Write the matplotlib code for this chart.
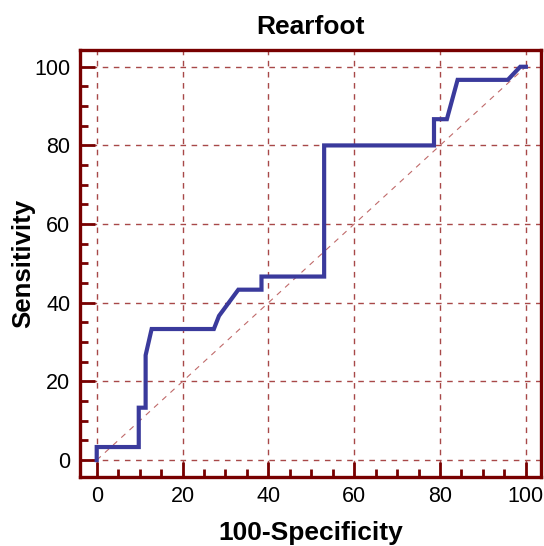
import numpy as np
import matplotlib.pyplot as plt
from matplotlib.ticker import MultipleLocator

plt.rcParams['font.family'] = ['Liberation Sans', 'DejaVu Sans']

# ROC points
fpr = [0, 0, 9.8, 9.8, 11.4, 11.4, 12.8, 27.3, 28.5, 33.0, 38.4, 38.4, 53.0, 53.0,
       78.6, 78.6, 81.6, 84.1, 95.8, 98.7, 100]
tpr = [0, 3.33, 3.33, 13.33, 13.33, 26.67, 33.33, 33.33, 36.67, 43.33, 43.33, 46.67,
       46.67, 80, 80, 86.67, 86.67, 96.67, 96.67, 100, 100]
ref = [0, 100]
ticks = [0, 20, 40, 60, 80, 100]

frame = '#780000'
grid_c = '#a84848'
curve_c = '#3a3a9c'

fig = plt.figure(figsize=(5.44, 5.46), dpi=100)
ax = fig.add_axes([0.147, 0.127, 0.848, 0.781])

for t in ticks:
    ax.axhline(t, color=grid_c, lw=1.0, ls=(0, (4, 4)), zorder=1)
    ax.axvline(t, color=grid_c, lw=1.0, ls=(0, (4, 4)), zorder=1)

ax.plot(ref, ref, color='#c06a6a', lw=0.8, ls=(0, (5, 5)), zorder=2)
ax.plot(fpr, tpr, color=curve_c, lw=3.0, solid_joinstyle='miter', zorder=3)

ax.set_xlim(-3.9, 103.6)
ax.set_ylim(-4.2, 104.2)
ax.set_xticks(ticks)
ax.set_yticks(ticks)
ax.xaxis.set_minor_locator(MultipleLocator(5))
ax.yaxis.set_minor_locator(MultipleLocator(5))
ax.tick_params(which='major', direction='in', length=11, width=2, color=frame,
               labelsize=15.5, pad=7, top=False, right=False)
ax.tick_params(which='minor', direction='in', length=5.5, width=2, color=frame,
               top=False, right=False)
for s in ax.spines.values():
    s.set_color(frame)
    s.set_linewidth(2.4)

ax.set_title('Rearfoot', fontsize=19, fontweight='bold', pad=12)
ax.set_xlabel('100-Specificity', fontsize=19, fontweight='bold', labelpad=10)
ax.set_ylabel('Sensitivity', fontsize=18.5, fontweight='bold')
ax.yaxis.set_label_coords(-0.098, 0.5)

plt.savefig('out.png', dpi=100)
